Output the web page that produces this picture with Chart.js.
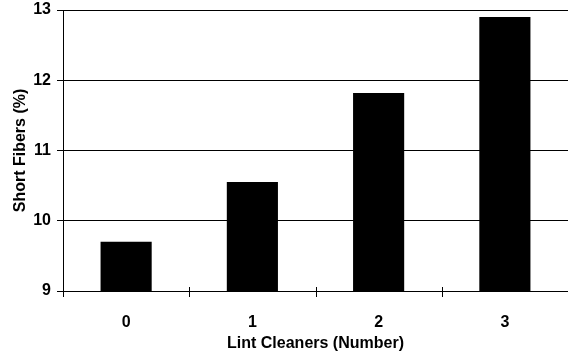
<!DOCTYPE html>
<html>
<head>
<meta charset="utf-8">
<script src="https://cdn.jsdelivr.net/npm/chart.js@4"></script>
<style>
  html, body { margin: 0; padding: 0; background: #fff; }
  #wrap { width: 568px; height: 353px; }
</style>
</head>
<body>
<div id="wrap"><canvas id="chart" width="568" height="353"></canvas></div>
<script>
  const cleaners = ["0", "1", "2", "3"];
  const shortFibers = [9.7, 10.55, 11.82, 12.9];
  const yTicks = [9, 10, 11, 12, 13];

  const FONT = "'Liberation Sans', Arial, sans-serif";

  // tick marks on the x axis sit between categories and cross the axis line
  const crossTicks = {
    id: "crossTicks",
    afterDraw(chart) {
      const x = chart.scales.x;
      const y0 = chart.chartArea.bottom;
      const ctx = chart.ctx;
      const half = (x.getPixelForValue(1) - x.getPixelForValue(0)) / 2;
      ctx.save();
      ctx.strokeStyle = "#000";
      ctx.lineWidth = 1;
      ctx.beginPath();
      for (let i = 0; i < cleaners.length; i++) {
        const px = Math.round(x.getPixelForValue(i) - half) + 0.5;
        ctx.moveTo(px, y0 - 4);
        ctx.lineTo(px, y0 + 6);
      }
      ctx.stroke();
      ctx.restore();
    },
  };

  new Chart(document.getElementById("chart"), {
    type: "bar",
    data: {
      labels: cleaners,
      datasets: [
        {
          data: shortFibers,
          backgroundColor: "#000",
          borderWidth: 0,
          barPercentage: 0.405,
          categoryPercentage: 1,
        },
      ],
    },
    options: {
      responsive: false,
      animation: false,
      layout: { padding: { top: 10, right: 0, left: 0, bottom: 0 } },
      plugins: { legend: { display: false }, tooltip: { enabled: false } },
      scales: {
        x: {
          grid: { display: false, offset: true },
          border: { display: true, color: "#000", width: 1 },
          ticks: {
            color: "#000",
            padding: 14,
            font: { family: FONT, size: 16, weight: "bold" },
          },
          title: {
            display: true,
            text: "Lint Cleaners (Number)",
            color: "#000",
            padding: { top: 0, bottom: 0 },
            font: { family: FONT, size: 16, weight: "bold" },
          },
          afterFit(scale) {
            scale.height = 62;
          },
        },
        y: {
          min: 9,
          max: 13,
          afterBuildTicks(scale) {
            scale.ticks = yTicks.map((v) => ({ value: v }));
          },
          grid: { color: "#000", lineWidth: 1, tickLength: 6, drawTicks: true },
          border: { display: true, color: "#000", width: 1 },
          ticks: {
            color: "#000",
            padding: 6,
            font: { family: FONT, size: 16, weight: "bold" },
          },
          title: {
            display: true,
            text: "Short Fibers (%)",
            color: "#000",
            padding: { top: 11, bottom: 0 },
            font: { family: FONT, size: 16, weight: "bold" },
          },
          afterFit(scale) {
            scale.width = 63;
            scale.paddingTop = 0;
            scale.paddingBottom = 0;
          },
        },
      },
    },
    plugins: [crossTicks],
  });
</script>
</body>
</html>
